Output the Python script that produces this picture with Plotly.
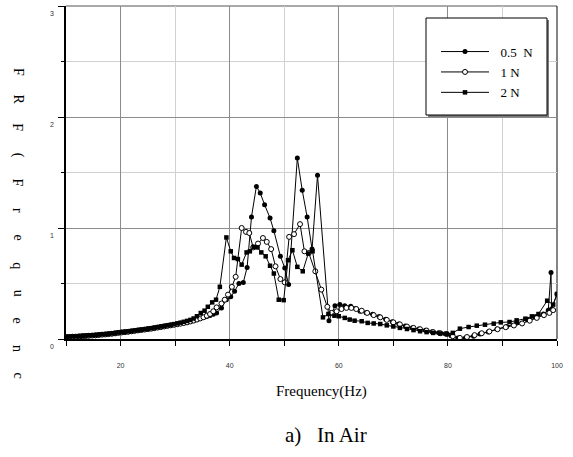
import plotly.graph_objects as go

# ---------------- data ----------------
FREQ_LOW = [10.0, 10.6, 11.2, 11.8, 12.4, 13.0, 13.6, 14.2, 14.8, 15.4, 16.0, 16.6,
            17.2, 17.8, 18.4, 19.0, 19.6, 20.2, 20.8, 21.4, 22.0, 22.6, 23.2, 23.8,
            24.4, 25.0, 25.6, 26.2, 26.8, 27.4, 28.0, 28.6, 29.2, 29.8]

N05_LOW = [0.018, 0.019, 0.021, 0.022, 0.024, 0.026, 0.028, 0.030, 0.032, 0.034, 0.037, 0.040,
           0.042, 0.045, 0.048, 0.052, 0.056, 0.060, 0.063, 0.066, 0.070, 0.074, 0.078, 0.082,
           0.086, 0.090, 0.094, 0.099, 0.104, 0.109, 0.114, 0.119, 0.124, 0.129]
N1_LOW = [0.017, 0.018, 0.020, 0.021, 0.023, 0.025, 0.027, 0.029, 0.031, 0.033, 0.036, 0.039,
          0.041, 0.044, 0.047, 0.051, 0.055, 0.059, 0.062, 0.065, 0.069, 0.073, 0.077, 0.081,
          0.085, 0.089, 0.093, 0.098, 0.103, 0.108, 0.113, 0.118, 0.123, 0.128]
N2_LOW = [0.020, 0.021, 0.023, 0.024, 0.026, 0.028, 0.030, 0.032, 0.034, 0.036, 0.039, 0.042,
          0.044, 0.047, 0.050, 0.054, 0.058, 0.062, 0.065, 0.068, 0.072, 0.076, 0.080, 0.084,
          0.088, 0.092, 0.097, 0.102, 0.107, 0.112, 0.117, 0.122, 0.128, 0.134]

FREQ_05 = [30.4, 31.0, 31.6, 32.2, 32.8, 33.4, 34.0, 34.6, 35.2, 35.8, 36.4, 37.0, 37.6, 38.5,
           39.4, 40.2, 40.9, 41.7, 42.5, 43.2, 44.0, 44.9, 45.6, 46.4, 47.4, 48.1, 49.3, 50.1,
           50.8, 52.4, 53.3, 54.2, 55.1, 56.1, 58.2, 59.3, 60.2, 61.1, 62.2, 63.1, 63.9, 65.0,
           66.2, 67.4, 68.6, 69.8, 71.0, 72.2, 73.5, 74.7, 75.9, 77.1, 78.3, 79.5, 80.6, 81.8,
           83.2, 84.7, 85.9, 87.4, 89.0, 90.8, 92.6, 94.5, 96.0, 97.5, 98.4, 98.9, 99.0, 100.0]
VAL_05 = [0.135, 0.140, 0.146, 0.152, 0.160, 0.168, 0.176, 0.185, 0.194, 0.203, 0.212, 0.222, 0.234, 0.280,
          0.354, 0.380, 0.430, 0.500, 0.510, 0.645, 1.100, 1.375, 1.315, 1.210, 1.090, 0.975, 0.745, 0.640,
          0.490, 1.630, 1.340, 1.100, 0.810, 1.475, 0.165, 0.300, 0.310, 0.300, 0.295, 0.275, 0.250, 0.237,
          0.222, 0.202, 0.177, 0.156, 0.136, 0.116, 0.101, 0.091, 0.079, 0.065, 0.056, 0.047, 0.030, 0.010,
          0.008, 0.025, 0.045, 0.063, 0.090, 0.113, 0.145, 0.175, 0.200, 0.225, 0.260, 0.600, 0.270, 0.405]

FREQ_1 = [30.4, 31.0, 31.6, 32.2, 32.8, 33.4, 34.0, 34.6, 35.2, 35.8, 36.4, 37.0, 37.6, 38.5,
          39.1, 39.7, 40.4, 41.1, 42.2, 43.0, 43.6, 44.3, 45.2, 46.1, 46.8, 47.6, 48.4, 49.3,
          50.1, 50.9, 51.8, 52.9, 53.7, 54.5, 55.7, 56.8, 57.9, 58.7, 59.6, 60.5, 61.4, 62.3,
          63.2, 64.2, 65.2, 66.4, 67.6, 68.8, 70.0, 71.2, 72.5, 73.7, 74.9, 76.1, 77.3, 78.6,
          79.8, 80.9, 82.2, 83.5, 84.9, 86.2, 87.6, 89.1, 90.6, 92.1, 93.6, 95.0, 96.3, 97.6,
          98.6, 99.3]
VAL_1 = [0.133, 0.138, 0.144, 0.150, 0.158, 0.166, 0.175, 0.185, 0.196, 0.210, 0.225, 0.250, 0.285, 0.320,
         0.354, 0.400, 0.470, 0.560, 1.000, 0.965, 0.955, 0.825, 0.860, 0.910, 0.875, 0.810, 0.655, 0.540,
         0.510, 0.920, 0.945, 1.035, 0.790, 0.775, 0.610, 0.445, 0.290, 0.235, 0.250, 0.270, 0.280, 0.280,
         0.270, 0.255, 0.235, 0.215, 0.195, 0.172, 0.150, 0.132, 0.112, 0.100, 0.088, 0.076, 0.062, 0.052,
         0.045, 0.025, 0.010, 0.018, 0.035, 0.052, 0.068, 0.088, 0.106, 0.122, 0.140, 0.165, 0.190, 0.215,
         0.235, 0.260]

FREQ_2 = [30.4, 31.0, 31.6, 32.2, 32.8, 33.4, 34.0, 34.7, 35.4, 36.0, 36.8, 37.5, 38.2, 39.4,
          40.2, 40.8, 41.5, 42.2, 43.1, 43.7, 44.4, 45.1, 45.8, 46.6, 47.4, 48.1, 49.0, 49.9,
          50.7, 51.5, 52.4, 53.4, 54.4, 55.2, 57.1, 58.1, 59.2, 60.0, 61.1, 62.0, 62.9, 64.2,
          65.3, 66.4, 67.6, 68.8, 70.0, 71.2, 72.5, 73.7, 74.9, 76.1, 77.3, 78.6, 79.8, 80.9,
          82.2, 83.8, 85.3, 86.8, 88.4, 89.7, 91.3, 92.6, 94.2, 95.4, 96.6, 98.2, 99.3, 100.0]
VAL_2 = [0.140, 0.147, 0.155, 0.163, 0.172, 0.185, 0.205, 0.234, 0.255, 0.290, 0.330, 0.354, 0.470, 0.915,
         0.790, 0.730, 0.720, 0.670, 0.780, 0.790, 0.830, 0.825, 0.780, 0.745, 0.660, 0.590, 0.354, 0.350,
         0.710, 0.800, 0.650, 0.610, 0.770, 0.790, 0.195, 0.225, 0.210, 0.205, 0.190, 0.175, 0.165, 0.160,
         0.145, 0.140, 0.135, 0.123, 0.113, 0.100, 0.090, 0.080, 0.070, 0.062, 0.055, 0.050, 0.045, 0.055,
         0.093, 0.108, 0.120, 0.129, 0.138, 0.150, 0.153, 0.168, 0.183, 0.204, 0.225, 0.345, 0.310, 0.405]

SERIES_NAMES = ["0.5  N", "1 N", "2 N"]
X_TICKS = [20, 40, 60, 80, 100]
Y_TICKS = [0, 1, 2, 3]
Y_TITLE = "FRF(Frequenc"
X_TITLE = "Frequency(Hz)"
CAPTION = "a)&nbsp;&nbsp;&nbsp;In Air"

# ---------------- figure ----------------
W, H = 573, 457
ML, MR, MT, MB = 66, 16, 6, 118
PW = W - ML - MR
PH = H - MT - MB


def px(x):
    return (x - ML) / PW


def py(y):
    return (H - MB - y) / PH


serif = "Liberation Serif, Times New Roman, serif"
sans = "Liberation Sans, Arial, sans-serif"

fig = go.Figure()
series = [
    (FREQ_LOW + FREQ_05, N05_LOW + VAL_05, dict(symbol="circle", size=5, color="black")),
    (FREQ_LOW + FREQ_1, N1_LOW + VAL_1, dict(symbol="circle", size=5, color="white",
                                             line=dict(color="black", width=1))),
    (FREQ_LOW + FREQ_2, N2_LOW + VAL_2, dict(symbol="square", size=4.5, color="black")),
]
for i, (xs, ys, mk) in enumerate(series):
    fig.add_trace(go.Scatter(x=xs, y=ys, mode="lines+markers",
                             name="&nbsp;&nbsp;" + SERIES_NAMES[i],
                             legendgroup=f"g{i}",
                             line=dict(color="black", width=1), marker=mk))

axis_font = dict(family=sans, size=7, color="#333333")
fig.update_xaxes(range=[10, 100], tickvals=X_TICKS, ticktext=[str(v) for v in X_TICKS],
                 showgrid=True, gridcolor="#8c8c8c", gridwidth=1,
                 showline=True, linecolor="black", linewidth=1.5,
                 ticks="outside", ticklen=5, tickcolor="black", tickwidth=1,
                 tickfont=axis_font, ticklabelstandoff=14, zeroline=False,
                 minor=dict(dtick=10, tick0=10, showgrid=True, gridcolor="#d0d0d0",
                            ticks="outside", ticklen=5, tickcolor="black"))
fig.update_yaxes(range=[0, 3], tickvals=Y_TICKS, ticktext=[str(v) for v in Y_TICKS],
                 showgrid=True, gridcolor="#8c8c8c", gridwidth=1,
                 showline=True, linecolor="black", linewidth=1.5,
                 ticks="outside", ticklen=6, tickcolor="black", tickwidth=1,
                 tickfont=axis_font, ticklabelstandoff=3, ticklabelshift=8, zeroline=False,
                 minor=dict(dtick=0.5, showgrid=True, gridcolor="#d0d0d0",
                            ticks="outside", ticklen=3, tickcolor="black"))

annotations = []
for i, ch in enumerate(Y_TITLE):
    annotations.append(dict(text=ch, xref="paper", yref="paper",
                            x=px(18), y=py(72 + i * 27.6),
                            xanchor="center", yanchor="middle", showarrow=False,
                            textangle=90, font=dict(family=serif, size=14, color="black")))
annotations.append(dict(text=X_TITLE, xref="paper", yref="paper", x=px(321),
                        y=py(391), xanchor="center", yanchor="middle",
                        showarrow=False, font=dict(family=serif, size=15, color="black")))
annotations.append(dict(text=CAPTION, xref="paper", yref="paper",
                        x=px(326), y=py(435),
                        xanchor="center", yanchor="middle",
                        showarrow=False, font=dict(family=serif, size=21, color="black")))

shapes = [
    # top and right frame of the plot area
    dict(type="line", xref="paper", yref="paper", x0=0, x1=1, y0=1, y1=1,
         line=dict(color="#555555", width=1.2), layer="below"),
    dict(type="line", xref="paper", yref="paper", x0=1, x1=1, y0=0, y1=1,
         line=dict(color="#333333", width=1.2), layer="below"),
    # legend box with a small shadow
    dict(type="rect", xref="paper", yref="paper", x0=px(428), x1=px(549), y0=py(117), y1=py(20),
         fillcolor="#7a7a7a", line=dict(width=0), layer="above"),
    dict(type="rect", xref="paper", yref="paper", x0=px(426), x1=px(547), y0=py(115), y1=py(18),
         fillcolor="white", line=dict(color="black", width=1), layer="above"),
]

fig.update_layout(
    width=W, height=H, margin=dict(l=ML, r=MR, t=MT, b=MB),
    paper_bgcolor="white", plot_bgcolor="white",
    annotations=annotations, shapes=shapes,
    showlegend=True,
    legend=dict(x=px(436), y=py(21),
                xanchor="left", yanchor="top",
                bgcolor="rgba(0,0,0,0)", borderwidth=0,
                font=dict(family=serif, size=13, color="black"),
                tracegroupgap=0.5, itemwidth=48,
                title=dict(text=" ", font=dict(size=12))),
)

fig.write_html("out.html")
